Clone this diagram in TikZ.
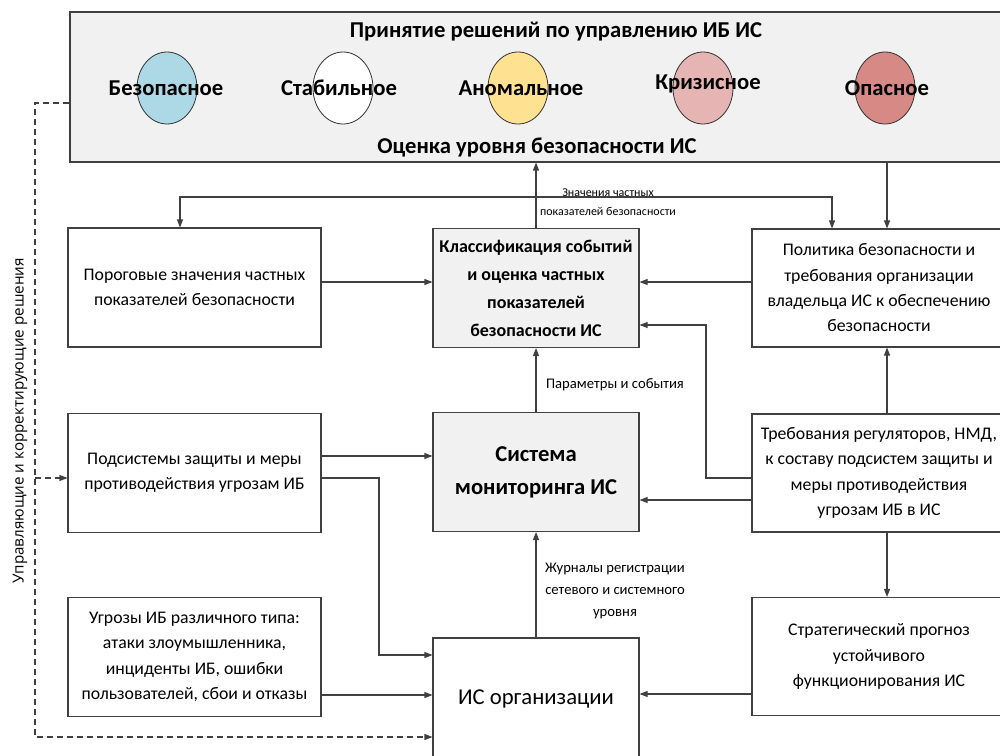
\documentclass[tikz,border=0pt]{standalone}
\usepackage{fontspec}
\setmainfont{Carlito}
\newfontfamily\sidefont{Open Sans}
\usetikzlibrary{arrows.meta, positioning, calc, shapes.geometric}
\definecolor{linegray}{RGB}{64,64,64}
\definecolor{panelgray}{RGB}{241,241,241}
\definecolor{safeblue}{RGB}{173,216,230}
\definecolor{anomyellow}{RGB}{255,226,145}
\definecolor{crisispink}{RGB}{230,180,178}
\definecolor{dangerred}{RGB}{214,137,133}

\begin{document}
\begin{tikzpicture}[x=0.75pt, y=-0.75pt,
  box/.style={draw=linegray, line width=0.8pt, align=center, inner sep=2pt},
  sidebox/.style={box, minimum width=189.75pt, minimum height=89.25pt},
  midbox/.style={box, minimum width=154.5pt, minimum height=89.25pt},
  rbox/.style={box, minimum width=190.5pt, minimum height=88.5pt},
  txt/.style={font=\fontsize{13.3pt}{19pt}\selectfont},
  head/.style={font=\fontsize{17pt}{20pt}\selectfont\bfseries},
  note/.style={font=\fontsize{11pt}{16.5pt}\selectfont, align=center},
  arr/.style={draw=linegray, line width=0.8pt, -{Triangle[length=6pt,width=4.5pt]}},
  dsh/.style={arr, dash pattern=on 4.5pt off 3pt},
  stateov/.style={ellipse, draw=black!80, line width=0.6pt, minimum width=45pt, minimum height=54pt, inner sep=0pt},
  statelab/.style={font=\fontsize{17pt}{19pt}\selectfont\bfseries}]

  \clip (0,0) rectangle (1000,756);

  \node[box, fill=panelgray, minimum width=705pt, minimum height=112.5pt] (panel) at (540,87) {};
  \node[head] (decide) at (556,32) {Принятие решений по управлению ИБ ИС};
  \node[head] (assess) at (537,148) {Оценка уровня безопасности ИС};
  \foreach \ex/\lx/\ly/\col/\name/\lab in {167/166/88/safeblue/safe/Безопасное, 343/339/88/white/stable/Стабильное, 518/521/88/anomyellow/anom/Аномальное, 703/708/84/crisispink/crisis/Кризисное, 885/887/88/dangerred/danger/Опасное} {
    \node[stateov, fill=\col] (\name) at (\ex,88) {};
    \node[statelab] (\name-lab) at (\lx,\ly) {\lab};
  }

  \node[sidebox, txt] (lim) at (194.5,287.5) {Пороговые значения частных\\показателей безопасности};
  \node[midbox, fill=panelgray, font=\fontsize{13.5pt}{21pt}\selectfont\bfseries] (cls) at (536,288) {Классификация событий\\и оценка частных\\показателей\\безопасности ИС};
  \node[rbox, txt] (pol) at (879,288) {Политика безопасности и\\требования организации\\владельца ИС к обеспечению\\безопасности};
  \node[sidebox, txt] (sub) at (194.5,473) {Подсистемы защиты и меры\\противодействия угрозам ИБ};
  \node[midbox, fill=panelgray, font=\fontsize{17pt}{24.75pt}\selectfont\bfseries] (mon) at (536,472) {Система\\мониторинга ИС};
  \node[rbox, txt] (req) at (879,473) {Требования регуляторов, НМД,\\к составу подсистем защиты и\\меры противодействия\\угрозам ИБ в ИС};
  \node[sidebox, txt] (thr) at (194.5,657) {Угрозы ИБ различного типа:\\атаки злоумышленника,\\инциденты ИБ, ошибки\\пользователей, сбои и отказы};
  \node[midbox, minimum height=91.5pt, font=\fontsize{17pt}{20pt}\selectfont] (org) at (536,699) {ИС организации};
  \node[rbox, txt] (fc) at (879,656.5) {Стратегический прогноз\\устойчивого\\функционирования ИС};

  \node[note, font=\fontsize{9pt}{14.25pt}\selectfont] (vallab) at (608,202) {Значения частных\\показателей безопасности};
  \node[note] (parlab) at (615,385) {Параметры и события};
  \node[note] (loglab) at (615,591) {Журналы регистрации\\сетевого и системного\\уровня};
  \node[rotate=90, font=\sidefont\fontsize{11.4pt}{13pt}\selectfont] (ctrl) at (20,421) {Управляющие и корректирующие решения};

  \coordinate (vals) at (536,197);
  \coordinate (x180) at (180,0);
  \coordinate (x832) at (832,0);
  \coordinate (x887) at (887,0);
  \coordinate (y282) at (0,282);
  \coordinate (y456) at (0,456);
  \coordinate (y478) at (0,478);
  \coordinate (y500) at (0,500);
  \coordinate (y694) at (0,694);
  \coordinate (y695) at (0,695);
  \coordinate (jog) at (706,325);
  \coordinate (jog2) at (379,655);
  \coordinate (dtop) at (35,103);
  \coordinate (dbot) at (35,737);
  \coordinate (dtap) at (35,478);

  \draw[arr] (cls.north) -- (cls.north |- panel.south);
  \draw[arr] (vals) -| (lim.north -| x180);
  \draw[arr] (vals) -| (pol.north -| x832);
  \draw[arr] (panel.south -| x887) -- (pol.north -| x887);
  \draw[arr] (lim.east |- y282) -- (cls.west |- y282);
  \draw[arr] (pol.west |- y282) -- (cls.east |- y282);
  \draw[arr] (req.west |- y478) -| (jog) -- (cls.east |- jog);
  \draw[arr] (req.west |- y500) -- (mon.east |- y500);
  \draw[arr] (mon.north) -- (cls.south);
  \draw[arr] (org.north) -- (mon.south);
  \draw[arr] (sub.east |- y456) -- (mon.west |- y456);
  \draw[arr] (sub.east |- y478) -| (jog2) -- (org.west |- jog2);
  \draw[arr] (thr.east |- y695) -- (org.west |- y695);
  \draw[arr] (fc.west |- y694) -- (org.east |- y694);
  \draw[arr] (req.north -| x887) -- (pol.south -| x887);
  \draw[arr] (req.south -| x887) -- (fc.north -| x887);
  \draw[dsh] (panel.west |- dtop) -- (dtop) -- (dbot) -- (org.west |- dbot);
  \draw[dsh] (dtap) -- (sub.west |- dtap);
\end{tikzpicture}
\end{document}
